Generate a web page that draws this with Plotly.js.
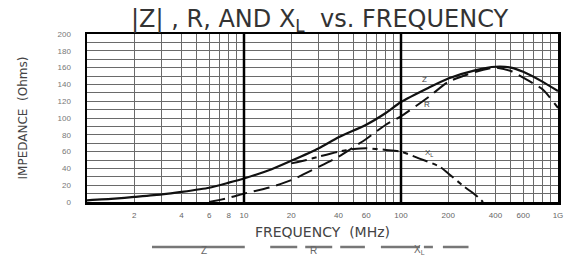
<!DOCTYPE html>
<html>
<head>
<meta charset="utf-8">
<script src="https://cdn.plot.ly/plotly-3.0.1.min.js"></script>
<style>html,body{margin:0;padding:0;background:#fff;}#chart{width:581px;height:268px;}</style>
</head>
<body>
<div id="chart"></div>
<script>
// Frequencies in MHz
const freqZ = [1, 1.5, 2, 3, 4, 6, 8, 10, 15, 20, 30, 40, 60, 80, 100, 150, 200, 300, 400, 500, 600, 800, 1000];
const impZ  = [2, 4, 6, 9, 12, 17, 23, 28, 39, 49, 64, 77, 92, 106, 119, 136, 147, 157, 161, 160, 155, 143, 132];

const freqR = [6, 8, 10, 15, 20, 30, 40, 60, 80, 100, 150, 200, 300, 400, 500, 600, 800, 1000];
const resR  = [0, 5, 10, 18, 26, 42, 54, 75, 92, 102, 125, 143, 155, 160, 156, 148, 134, 112];

const freqXL = [20, 25, 30, 40, 50, 60, 80, 100, 130, 177, 200, 250, 300, 333];
const reactXL = [46, 50, 54, 60, 63, 64, 62, 60, 52, 42, 34, 19, 8, 0];

const xTickVals = [2, 4, 6, 8, 10, 20, 40, 60, 100, 200, 400, 600, 1000];
const xTickText = ['2', '4', '6', '8', '10', '20', '40', '60', '100', '200', '400', '600', '1G'];
const xMinorVals = [3, 5, 7, 9, 30, 50, 70, 80, 90, 300, 500, 700, 800, 900];
const xHeavyVals = [10, 100];
const yTickVals = [0, 20, 40, 60, 80, 100, 120, 140, 160, 180, 200];

const traces = [
  {x: freqZ, y: impZ, name: 'Z', mode: 'lines', line: {color: '#111', width: 2.2, shape: 'spline', smoothing: 0.6}},
  {x: freqR, y: resR, name: 'R', mode: 'lines', line: {color: '#111', width: 2, dash: '16px,7px', shape: 'spline', smoothing: 0.6}},
  {x: freqXL, y: reactXL, name: 'XL', mode: 'lines', line: {color: '#111', width: 2, dash: '16px,5px,5px,5px', shape: 'spline', smoothing: 0.6}}
];

const gridCol = '#6a6a6a';
const heavyShapes = xHeavyVals.map(v => ({type: 'line', xref: 'x', yref: 'paper', x0: v, x1: v, y0: 0, y1: 1, line: {color: '#000', width: 2.5}}));

const layout = {
  width: 581, height: 268,
  margin: {l: 87, r: 23, t: 34, b: 66},
  paper_bgcolor: '#fff', plot_bgcolor: '#fff',
  showlegend: false,
  font: {family: 'Liberation Sans, Arial, sans-serif', color: '#555'},
  title: {text: '|Z| , R, AND X<sub>L</sub>  vs. FREQUENCY', x: 0.55, xanchor: 'center', y: 0.93, yanchor: 'middle',
          font: {family: 'DejaVu Sans, sans-serif', size: 24, color: '#333'}},
  xaxis: {
    type: 'log', range: [0, 3], tickmode: 'array', tickvals: xTickVals, ticktext: xTickText,
    showgrid: true, gridcolor: gridCol, gridwidth: 1,
    minor: {tickmode: 'array', tickvals: xMinorVals, showgrid: true, gridcolor: gridCol, gridwidth: 1, ticks: ''},
    showline: true, mirror: true, linecolor: '#000', linewidth: 2.5,
    ticks: '', ticklabelstandoff: 4,
    tickfont: {size: 8, color: '#666'},
    zeroline: false, automargin: false,
    title: {text: 'FREQUENCY  (MHz)', standoff: 8, font: {family: 'DejaVu Sans, sans-serif', size: 14, color: '#444'}}
  },
  yaxis: {
    range: [0, 200], tickmode: 'array', tickvals: yTickVals,
    showgrid: true, gridcolor: gridCol, gridwidth: 1,
    minor: {dtick: 10, showgrid: true, gridcolor: gridCol, gridwidth: 1, ticks: ''},
    showline: true, mirror: true, linecolor: '#000', linewidth: 2.5,
    ticks: '', ticklabelstandoff: 12,
    tickfont: {size: 8, color: '#777'},
    zeroline: false, automargin: false,
    title: {text: 'IMPEDANCE  (Ohms)', standoff: 28, font: {family: 'DejaVu Sans, sans-serif', size: 12, color: '#444'}}
  },
  shapes: heavyShapes.concat([
    // legend samples
    {type: 'line', xref: 'paper', yref: 'paper', x0: 0.138, x1: 0.335, y0: -0.268, y1: -0.268, line: {color: '#777', width: 2.5}},
    {type: 'line', xref: 'paper', yref: 'paper', x0: 0.389, x1: 0.590, y0: -0.268, y1: -0.268, line: {color: '#777', width: 2.5, dash: '27px,8px'}},
    {type: 'line', xref: 'paper', yref: 'paper', x0: 0.624, x1: 0.81, y0: -0.268, y1: -0.268, line: {color: '#777', width: 2.5, dash: '39px,4px,9px,10px'}}
  ]),
  annotations: [
    {xref: 'paper', yref: 'paper', x: 0.238, y: -0.335, text: 'Z', showarrow: false, font: {size: 10, color: '#666'}},
    {xref: 'paper', yref: 'paper', x: 0.480, y: -0.335, text: 'R', showarrow: false, font: {size: 10, color: '#666'}},
    {xref: 'paper', yref: 'paper', x: 0.722, y: -0.335, text: 'X<sub>L</sub>', showarrow: false, font: {size: 10, color: '#666'}},
    {xref: 'x', yref: 'y', x: Math.log10(142), y: 146, text: 'Z', showarrow: false, font: {size: 8, color: '#444'}},
    {xref: 'x', yref: 'y', x: Math.log10(146), y: 116, text: 'R', showarrow: false, font: {size: 8, color: '#444'}},
    {xref: 'x', yref: 'y', x: Math.log10(150), y: 58, text: 'X<sub>L</sub>', showarrow: false, font: {size: 8, color: '#444'}}
  ]
};

Plotly.newPlot('chart', traces, layout, {staticPlot: true, displayModeBar: false});
</script>
</body>
</html>
